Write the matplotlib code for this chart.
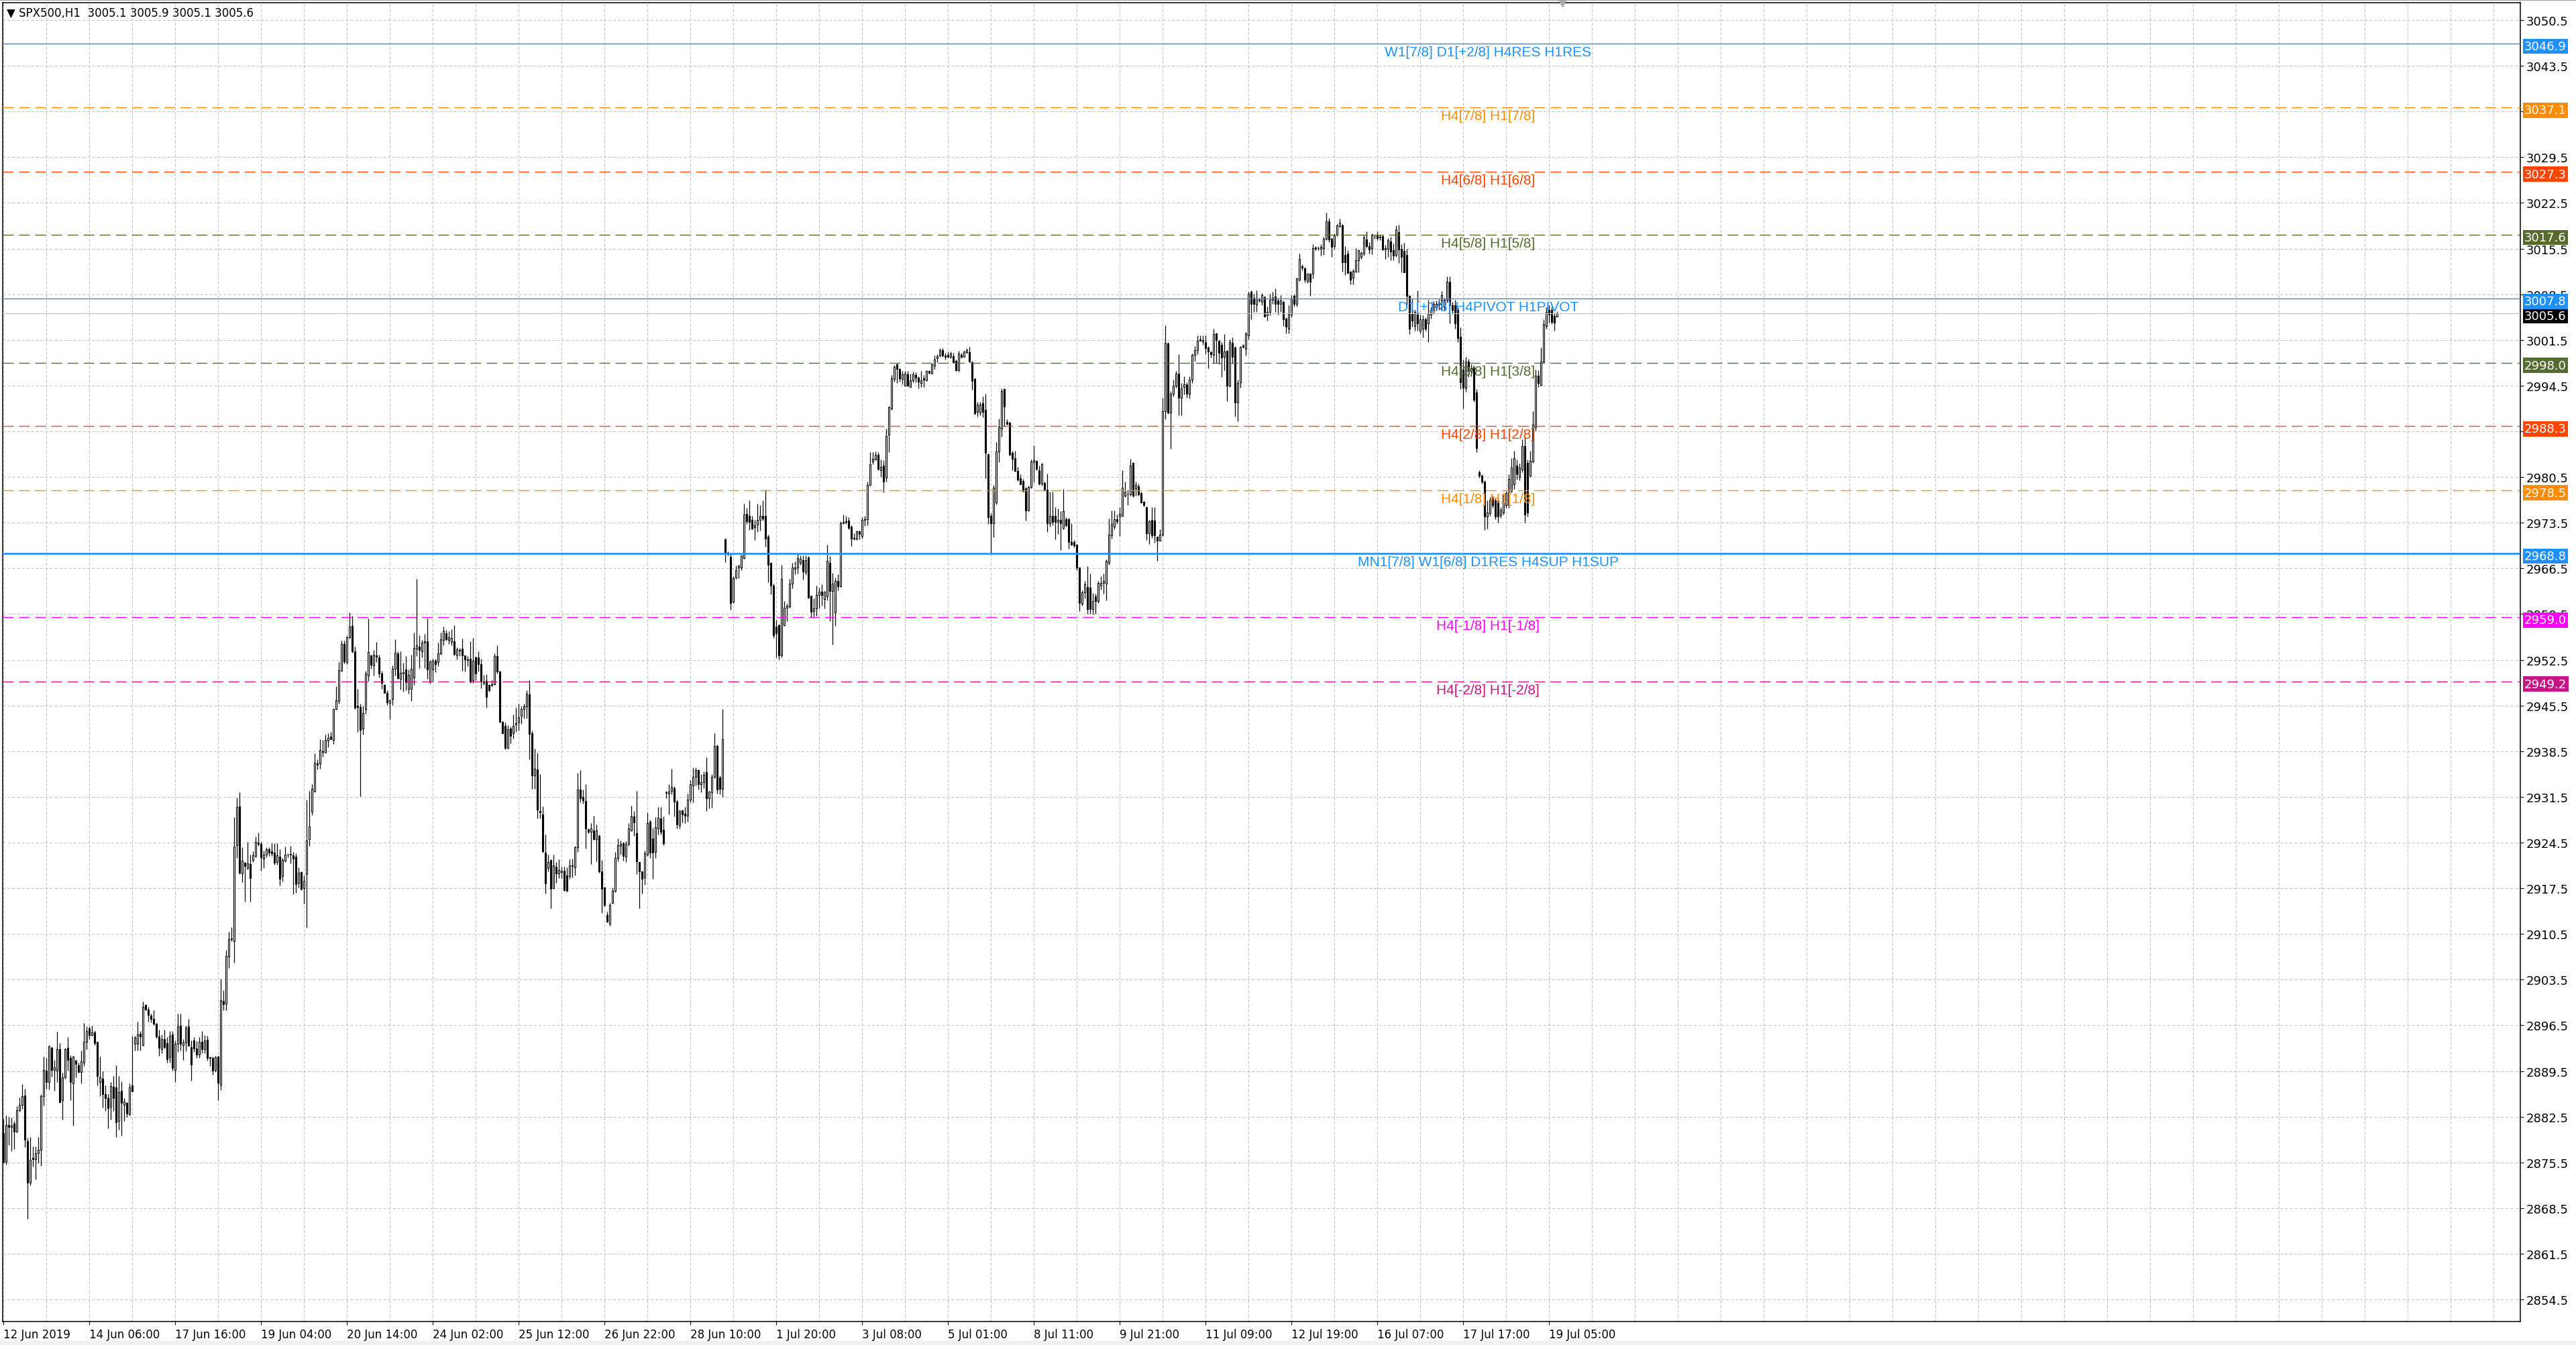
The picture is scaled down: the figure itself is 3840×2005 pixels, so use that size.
import numpy as np
import matplotlib.pyplot as plt
from matplotlib.collections import LineCollection
from matplotlib.patches import Rectangle
from matplotlib.ticker import FixedLocator, MultipleLocator

# H1 bars, SPX500 (one value per bar)
opens = [
    2880.0, 2875.6, 2881.2, 2880.9, 2881.4, 2880.2, 2883.5, 2884.3, 2885.8, 2878.8,
    2872.4, 2876.2, 2876.0, 2876.9, 2877.4, 2885.7, 2889.6, 2887.8, 2893.1, 2889.7,
    2889.6, 2892.8, 2885.0, 2888.5, 2893.0, 2891.5, 2887.6, 2891.1, 2890.4, 2889.4,
    2890.8, 2894.0, 2896.0, 2895.0, 2895.4, 2894.0, 2887.8, 2888.3, 2886.0, 2885.3,
    2884.0, 2887.1, 2887.0, 2881.8, 2886.5, 2884.3, 2884.6, 2882.9, 2887.3, 2893.7,
    2893.7, 2895.2, 2893.5, 2899.6, 2898.9, 2898.0, 2897.5, 2896.8, 2894.8, 2892.8,
    2894.4, 2893.8, 2891.6, 2895.1, 2889.7, 2893.7, 2896.4, 2893.5, 2893.9, 2896.3,
    2893.2, 2894.2, 2892.9, 2892.0, 2894.0, 2892.8, 2894.3, 2891.6, 2891.5, 2889.7,
    2891.7, 2887.4, 2900.2, 2899.8, 2907.0, 2909.7, 2909.4, 2924.1, 2930.0, 2919.8,
    2921.4, 2920.6, 2921.2, 2921.8, 2922.4, 2924.5, 2924.3, 2922.0, 2922.7, 2923.5,
    2923.2, 2923.0, 2921.5, 2922.3, 2919.4, 2921.7, 2922.6, 2922.6, 2922.5, 2922.3,
    2918.3, 2920.0, 2917.5, 2919.7, 2925.0, 2929.2, 2932.3, 2936.6, 2936.6, 2938.5,
    2938.3, 2940.1, 2940.7, 2940.2, 2944.9, 2946.2, 2950.8, 2954.9, 2952.1, 2955.9,
    2957.7, 2953.8, 2945.5, 2945.3, 2942.0, 2945.0, 2950.1, 2953.2, 2951.6, 2953.2,
    2952.9, 2950.4, 2948.7, 2947.4, 2945.9, 2946.5, 2951.1, 2953.5, 2949.6, 2950.4,
    2951.0, 2948.0, 2948.0, 2949.8, 2954.2, 2954.5, 2953.8, 2955.1, 2955.3, 2949.2,
    2951.0, 2952.3, 2952.1, 2953.5, 2955.5, 2956.6, 2955.5, 2955.2, 2955.3, 2953.2,
    2954.0, 2954.2, 2953.2, 2952.6, 2952.7, 2949.4, 2952.9, 2952.9, 2951.8, 2949.0,
    2949.3, 2948.6, 2948.5, 2948.8, 2953.1, 2950.7, 2943.0, 2942.4, 2939.0, 2942.0,
    2941.3, 2942.6, 2942.9, 2943.9, 2944.9, 2945.4, 2947.2, 2941.3, 2934.8, 2935.7,
    2929.3, 2928.8, 2923.0, 2920.6, 2921.8, 2917.5, 2920.8, 2919.8, 2920.0, 2920.2,
    2919.5, 2919.4, 2921.0, 2920.7, 2923.8, 2932.6, 2931.5, 2930.9, 2926.6, 2926.1,
    2926.4, 2925.0, 2925.5, 2920.1, 2917.6, 2913.4, 2912.1, 2915.3, 2917.1, 2922.1,
    2924.0, 2924.4, 2922.3, 2924.3, 2926.3, 2928.5, 2925.9, 2921.5, 2920.1, 2919.2,
    2922.6, 2927.7, 2925.1, 2923.1, 2926.7, 2928.2, 2926.5, 2932.2, 2932.0, 2932.4,
    2932.8, 2930.8, 2927.2, 2929.4, 2928.9, 2928.6, 2931.1, 2933.2, 2934.6, 2935.6,
    2933.4, 2933.7, 2935.3, 2931.3, 2932.2, 2934.6, 2939.3, 2934.5, 2932.7, 2971.0,
    2968.9, 2968.3, 2961.4, 2965.1, 2966.6, 2966.6, 2968.1, 2974.9, 2974.5, 2973.9,
    2972.8, 2973.2, 2973.9, 2974.6, 2974.6, 2971.4, 2967.4, 2963.9, 2957.6, 2957.8,
    2953.2, 2957.8, 2960.5, 2960.7, 2964.2, 2966.4, 2966.6, 2967.4, 2967.8, 2965.9,
    2968.2, 2962.3, 2960.0, 2960.4, 2962.4, 2962.9, 2961.8, 2962.2, 2967.4, 2963.0,
    2959.8, 2964.6, 2963.8, 2973.4, 2973.6, 2973.8, 2972.9, 2971.1, 2971.1, 2972.2,
    2971.5, 2973.9, 2974.0, 2979.3, 2982.9, 2983.2, 2983.9, 2981.5, 2982.3, 2980.4,
    2987.0, 2991.0, 2995.5, 2997.8, 2997.1, 2995.5, 2994.5, 2996.2, 2994.3, 2995.3,
    2996.1, 2995.7, 2994.9, 2995.6, 2995.3, 2996.7, 2996.4, 2997.6, 2998.7, 2999.1,
    2999.9, 2999.1, 2999.2, 2998.9, 2999.0, 2998.3, 2996.8, 2999.2, 2998.9, 2999.6,
    2999.6, 2998.1, 2995.5, 2990.5, 2990.4, 2991.8, 2990.8, 2984.0, 2974.6, 2973.4,
    2976.6, 2984.4, 2987.9, 2994.0, 2988.9, 2988.8, 2984.2, 2983.4, 2981.4, 2980.3,
    2979.9, 2978.8, 2975.4, 2979.0, 2982.8, 2983.0, 2981.5, 2979.5, 2979.6, 2978.6,
    2973.4, 2974.6, 2974.5, 2973.6, 2973.9, 2972.7, 2974.0, 2974.0, 2970.5, 2970.5,
    2970.1, 2966.6, 2961.1, 2962.8, 2963.7, 2963.6, 2960.3, 2962.2, 2961.5, 2963.9,
    2964.3, 2964.2, 2967.4, 2971.6, 2972.9, 2974.0, 2974.4, 2974.6, 2977.6, 2977.8,
    2977.8, 2982.7, 2978.8, 2979.1, 2978.0, 2976.7, 2975.9, 2971.9, 2973.9, 2973.8,
    2971.4, 2970.7, 2971.7, 2990.6, 3001.0, 2990.4, 2993.3, 2994.5, 2996.3, 2992.6,
    2994.3, 2994.7, 2993.3, 2995.4, 2999.2, 2999.9, 3001.6, 3001.3, 3001.2, 3000.3,
    2999.6, 2999.2, 3002.5, 3001.4, 3000.8, 2998.9, 2999.8, 2994.5, 3001.1, 3000.3,
    2991.9, 2995.0, 3000.7, 3000.1, 3002.2, 3008.9, 3007.9, 3006.9, 3007.6, 3007.3,
    3008.1, 3005.3, 3005.8, 3007.6, 3008.2, 3007.5, 3007.0, 3007.3, 3004.8, 3003.2,
    3005.4, 3008.3, 3007.0, 3010.7, 3012.8, 3012.5, 3010.5, 3011.6, 3011.7, 3015.7,
    3015.6, 3015.5, 3015.6, 3017.0, 3019.7, 3017.0, 3015.9, 3017.6, 3018.9, 3019.1,
    3014.5, 3014.7, 3012.0, 3011.0, 3012.0, 3013.7, 3014.2, 3014.7, 3016.9, 3015.9,
    3015.6, 3017.3, 3017.5, 3017.2, 3017.4, 3015.3, 3015.5, 3016.6, 3015.2, 3014.5,
    3018.0, 3015.5, 3015.1, 3014.5, 3008.3, 3005.5, 3003.6, 3005.4, 3002.9, 3003.2,
    3004.7, 3004.0, 3005.4, 3006.0, 3006.5, 3006.9, 3007.5, 3006.5, 3007.6, 3010.4,
    3006.8, 3006.8, 3006.1, 3002.0, 2997.0, 2994.2, 2998.2, 2996.7, 2997.2, 2993.5,
    2981.2, 2980.7, 2979.8, 2974.4, 2975.0, 2977.3, 2976.9, 2976.9, 2974.7, 2975.1,
    2976.2, 2976.2, 2978.4, 2979.4, 2982.3, 2980.5, 2981.6, 2985.2, 2982.7, 2980.7,
    2982.9, 2988.1, 2996.0, 2994.6, 2998.2, 3003.6, 3006.1, 3006.1, 3005.2, 3005.1,
]

highs = [
    2882.2, 2882.7, 2882.5, 2882.4, 2881.8, 2884.1, 2885.4, 2887.5, 2886.8, 2879.3,
    2879.4, 2877.9, 2877.9, 2879.4, 2886.0, 2891.7, 2891.5, 2893.5, 2893.3, 2891.2,
    2895.5, 2893.8, 2889.2, 2893.1, 2894.7, 2891.9, 2891.8, 2891.2, 2890.8, 2892.6,
    2896.9, 2896.3, 2896.3, 2896.4, 2895.7, 2894.0, 2891.7, 2889.5, 2887.3, 2886.0,
    2887.8, 2888.7, 2890.4, 2888.7, 2887.9, 2885.3, 2884.7, 2887.6, 2894.9, 2894.9,
    2897.1, 2895.6, 2900.1, 2899.7, 2899.3, 2898.3, 2898.8, 2896.9, 2895.8, 2895.1,
    2895.8, 2894.7, 2895.6, 2895.6, 2894.2, 2898.3, 2898.3, 2894.4, 2896.4, 2897.5,
    2894.2, 2894.7, 2894.1, 2894.7, 2895.6, 2895.0, 2894.9, 2891.7, 2891.7, 2891.8,
    2891.8, 2903.6, 2901.9, 2908.1, 2910.8, 2911.6, 2928.4, 2931.4, 2932.2, 2923.8,
    2921.5, 2924.6, 2922.7, 2923.2, 2925.4, 2926.0, 2924.6, 2923.3, 2923.8, 2923.8,
    2924.4, 2924.4, 2924.4, 2923.5, 2922.1, 2923.9, 2922.9, 2924.0, 2923.1, 2922.9,
    2920.7, 2920.1, 2919.5, 2931.1, 2932.4, 2933.4, 2938.2, 2937.2, 2940.3, 2940.2,
    2941.0, 2941.2, 2941.5, 2945.1, 2948.4, 2952.1, 2955.4, 2955.4, 2956.2, 2959.8,
    2959.2, 2954.5, 2948.0, 2945.8, 2945.5, 2950.8, 2958.8, 2953.3, 2954.0, 2955.2,
    2953.3, 2950.8, 2948.8, 2947.8, 2946.5, 2951.6, 2955.6, 2953.8, 2953.8, 2952.0,
    2953.1, 2951.0, 2953.3, 2956.7, 2964.9, 2956.3, 2955.5, 2956.5, 2958.8, 2952.5,
    2952.7, 2952.7, 2955.1, 2956.7, 2957.6, 2957.1, 2956.9, 2957.2, 2957.8, 2954.4,
    2954.3, 2955.7, 2953.2, 2953.1, 2955.3, 2955.8, 2953.1, 2953.8, 2952.7, 2950.2,
    2950.3, 2948.8, 2949.4, 2953.5, 2954.7, 2950.8, 2943.1, 2942.9, 2942.5, 2942.3,
    2944.1, 2945.2, 2945.8, 2945.4, 2945.8, 2947.8, 2949.4, 2941.7, 2938.9, 2938.3,
    2935.0, 2930.0, 2925.7, 2922.7, 2921.9, 2922.6, 2921.5, 2921.9, 2920.8, 2920.8,
    2920.7, 2921.9, 2922.0, 2924.0, 2935.2, 2935.6, 2932.6, 2933.4, 2926.7, 2927.5,
    2928.6, 2927.3, 2925.7, 2921.8, 2917.7, 2913.9, 2915.3, 2917.6, 2923.1, 2925.1,
    2924.8, 2924.6, 2924.7, 2927.5, 2930.2, 2929.3, 2932.4, 2921.5, 2920.1, 2923.3,
    2929.1, 2928.0, 2926.8, 2928.4, 2929.9, 2929.9, 2928.5, 2932.4, 2933.4, 2935.8,
    2933.1, 2931.1, 2929.5, 2929.5, 2929.9, 2932.0, 2934.1, 2936.0, 2936.0, 2935.7,
    2935.0, 2935.4, 2937.6, 2932.4, 2935.0, 2941.2, 2939.5, 2934.8, 2944.9, 2971.2,
    2969.1, 2968.7, 2965.3, 2966.9, 2967.0, 2968.5, 2976.4, 2975.8, 2976.9, 2974.5,
    2973.9, 2976.4, 2976.2, 2976.9, 2978.6, 2971.7, 2967.4, 2964.2, 2958.6, 2958.0,
    2967.0, 2961.5, 2961.1, 2964.9, 2967.4, 2967.6, 2968.7, 2968.5, 2968.5, 2968.5,
    2968.4, 2962.3, 2961.9, 2963.9, 2963.6, 2964.1, 2963.0, 2970.1, 2968.4, 2965.8,
    2965.1, 2965.6, 2973.7, 2974.8, 2974.6, 2974.3, 2973.1, 2971.9, 2972.3, 2972.3,
    2974.3, 2974.5, 2979.8, 2984.3, 2984.3, 2984.4, 2984.3, 2983.2, 2983.1, 2987.9,
    2991.4, 2996.1, 2997.7, 2997.9, 2997.2, 2996.7, 2996.7, 2996.7, 2996.3, 2996.6,
    2996.5, 2995.9, 2996.7, 2996.1, 2996.9, 2996.9, 2997.9, 2999.1, 2999.3, 3000.2,
    3000.2, 2999.5, 2999.7, 2999.7, 2999.5, 2998.5, 2999.8, 2999.5, 2999.8, 3000.2,
    3000.4, 2998.3, 2995.7, 2992.0, 2992.0, 2992.8, 2993.3, 2984.1, 2975.0, 2979.3,
    2985.9, 2989.4, 2994.1, 2994.1, 2989.3, 2988.9, 2984.5, 2984.5, 2982.1, 2980.9,
    2980.2, 2979.0, 2979.2, 2983.2, 2985.3, 2983.1, 2982.3, 2982.7, 2979.8, 2981.0,
    2978.2, 2978.2, 2975.9, 2975.7, 2975.3, 2978.7, 2974.3, 2974.2, 2973.4, 2970.8,
    2970.2, 2966.6, 2963.1, 2964.6, 2966.8, 2965.7, 2962.7, 2962.6, 2964.6, 2965.3,
    2965.7, 2967.9, 2974.1, 2975.4, 2975.4, 2974.8, 2975.9, 2981.5, 2979.8, 2978.6,
    2983.3, 2982.8, 2979.8, 2979.5, 2978.2, 2976.8, 2976.0, 2973.9, 2975.9, 2975.9,
    2971.4, 2972.5, 2992.6, 3003.7, 3001.2, 2993.7, 2995.4, 2996.7, 2999.3, 2994.9,
    2995.9, 2995.0, 2995.9, 2999.4, 3000.6, 3002.2, 3002.2, 3002.2, 3002.2, 3000.6,
    2999.8, 3003.2, 3002.6, 3001.5, 3001.2, 3002.4, 2999.9, 3001.6, 3001.9, 3000.5,
    2995.4, 3000.6, 3000.9, 3002.7, 3008.9, 3009.1, 3008.6, 3009.1, 3007.9, 3008.7,
    3008.3, 3006.6, 3008.6, 3008.9, 3009.4, 3008.0, 3008.4, 3007.5, 3005.0, 3006.8,
    3008.4, 3008.5, 3011.0, 3014.7, 3013.1, 3012.7, 3011.8, 3011.8, 3016.2, 3015.9,
    3015.9, 3016.2, 3017.3, 3021.0, 3020.2, 3017.2, 3017.8, 3019.3, 3020.1, 3019.3,
    3015.9, 3015.2, 3012.1, 3012.4, 3015.6, 3015.3, 3015.0, 3017.6, 3018.1, 3016.5,
    3017.8, 3017.6, 3018.1, 3017.6, 3017.5, 3016.1, 3017.1, 3017.3, 3016.3, 3019.0,
    3019.2, 3016.2, 3016.4, 3015.5, 3008.4, 3007.8, 3006.1, 3009.1, 3005.4, 3005.3,
    3005.0, 3007.6, 3006.5, 3007.4, 3007.5, 3007.7, 3009.0, 3008.0, 3011.2, 3011.2,
    3007.3, 3007.6, 3006.5, 3003.4, 2998.5, 2998.9, 2998.6, 2997.8, 2997.5, 2994.0,
    2981.5, 2980.9, 2980.0, 2976.9, 2977.4, 2977.6, 2977.2, 2977.3, 2975.9, 2978.0,
    2978.4, 2980.9, 2983.4, 2984.5, 2983.2, 2982.6, 2986.3, 2986.6, 2983.2, 2984.5,
    2990.6, 2997.0, 2996.8, 3000.3, 3004.7, 3006.5, 3006.8, 3006.5, 3005.7, 3005.9,
]

lows = [
    2875.4, 2875.2, 2878.2, 2877.2, 2877.5, 2880.1, 2883.3, 2883.7, 2877.8, 2866.8,
    2872.0, 2874.9, 2872.9, 2875.4, 2875.0, 2884.2, 2886.8, 2886.7, 2888.6, 2886.5,
    2887.8, 2884.6, 2882.1, 2888.3, 2889.6, 2885.0, 2881.1, 2888.5, 2889.2, 2887.6,
    2890.3, 2892.8, 2894.4, 2894.9, 2893.5, 2887.3, 2885.7, 2883.9, 2883.4, 2880.7,
    2882.1, 2883.4, 2879.4, 2880.5, 2879.6, 2881.9, 2882.5, 2882.7, 2886.4, 2892.6,
    2892.6, 2892.6, 2893.4, 2898.8, 2897.1, 2897.0, 2896.5, 2894.5, 2891.8, 2892.2,
    2892.9, 2890.8, 2890.8, 2889.6, 2887.8, 2892.4, 2892.6, 2891.2, 2892.5, 2893.4,
    2888.0, 2892.4, 2891.5, 2891.5, 2892.2, 2892.2, 2891.1, 2890.3, 2888.9, 2889.4,
    2885.0, 2886.6, 2898.8, 2898.8, 2905.3, 2909.4, 2906.1, 2922.1, 2919.7, 2918.4,
    2915.5, 2920.4, 2915.5, 2921.5, 2922.2, 2924.0, 2920.2, 2920.6, 2922.2, 2922.4,
    2922.4, 2921.1, 2921.1, 2917.9, 2918.5, 2921.5, 2922.2, 2921.3, 2916.6, 2916.8,
    2917.6, 2917.2, 2915.1, 2911.4, 2924.0, 2928.7, 2932.3, 2935.7, 2935.8, 2937.7,
    2938.3, 2939.1, 2940.3, 2939.6, 2944.8, 2945.8, 2950.8, 2951.9, 2951.8, 2955.7,
    2953.6, 2944.9, 2941.5, 2931.6, 2941.0, 2944.2, 2949.3, 2951.1, 2950.1, 2952.1,
    2949.8, 2948.0, 2947.4, 2945.6, 2943.4, 2945.6, 2950.1, 2949.6, 2947.9, 2947.6,
    2947.8, 2947.3, 2946.2, 2948.6, 2953.1, 2951.2, 2952.9, 2951.2, 2949.6, 2948.9,
    2949.2, 2950.6, 2951.5, 2953.3, 2954.7, 2955.4, 2954.9, 2954.7, 2953.2, 2952.6,
    2953.1, 2950.8, 2950.7, 2951.5, 2949.0, 2949.0, 2949.4, 2950.7, 2948.1, 2948.6,
    2945.2, 2947.6, 2948.4, 2948.6, 2950.4, 2942.9, 2941.1, 2938.8, 2938.9, 2939.7,
    2940.4, 2941.5, 2941.7, 2942.7, 2943.5, 2943.5, 2937.2, 2932.7, 2932.7, 2928.2,
    2928.2, 2923.0, 2916.7, 2920.1, 2914.4, 2917.4, 2918.3, 2919.1, 2919.1, 2917.1,
    2917.0, 2919.0, 2919.2, 2919.5, 2923.1, 2930.7, 2930.5, 2923.6, 2925.9, 2921.2,
    2924.9, 2921.6, 2919.9, 2913.7, 2914.7, 2912.3, 2911.8, 2915.1, 2916.9, 2921.6,
    2922.7, 2921.7, 2921.5, 2924.0, 2926.2, 2925.5, 2919.7, 2914.4, 2916.7, 2918.0,
    2922.4, 2922.1, 2918.9, 2922.1, 2925.7, 2925.7, 2924.1, 2931.3, 2928.8, 2931.9,
    2928.5, 2926.7, 2926.7, 2927.6, 2927.5, 2927.7, 2930.7, 2930.7, 2933.2, 2932.6,
    2932.2, 2932.8, 2929.3, 2929.7, 2929.8, 2934.4, 2932.0, 2931.9, 2931.5, 2967.5,
    2968.5, 2960.2, 2961.2, 2964.9, 2965.0, 2966.2, 2968.0, 2973.3, 2972.4, 2972.5,
    2970.8, 2972.1, 2972.3, 2973.8, 2969.8, 2964.4, 2962.5, 2955.8, 2952.9, 2952.6,
    2952.9, 2957.7, 2958.4, 2960.5, 2963.4, 2965.6, 2965.7, 2967.0, 2964.8, 2965.5,
    2961.9, 2959.0, 2959.1, 2959.2, 2960.4, 2960.8, 2960.4, 2961.6, 2958.4, 2954.8,
    2957.7, 2963.1, 2963.7, 2973.3, 2973.3, 2972.5, 2969.9, 2970.8, 2970.8, 2971.0,
    2971.1, 2973.0, 2973.1, 2979.2, 2982.5, 2983.1, 2981.5, 2980.5, 2978.1, 2979.8,
    2984.3, 2990.8, 2995.1, 2994.9, 2995.1, 2994.7, 2994.5, 2994.4, 2994.3, 2995.0,
    2995.0, 2994.1, 2994.3, 2994.3, 2995.2, 2996.3, 2996.2, 2997.1, 2998.1, 2998.9,
    2998.9, 2998.5, 2998.8, 2998.7, 2998.0, 2996.7, 2996.6, 2998.7, 2998.9, 2999.4,
    2998.1, 2993.9, 2990.1, 2989.8, 2990.0, 2989.7, 2980.3, 2973.3, 2968.8, 2971.3,
    2976.3, 2982.8, 2986.7, 2988.2, 2988.5, 2983.9, 2981.5, 2981.3, 2979.9, 2979.4,
    2978.2, 2973.8, 2975.3, 2978.8, 2979.7, 2981.5, 2979.3, 2979.2, 2978.4, 2972.1,
    2972.9, 2973.1, 2971.0, 2971.8, 2969.3, 2972.5, 2972.9, 2969.5, 2970.0, 2969.7,
    2966.2, 2960.0, 2960.8, 2961.9, 2959.5, 2959.5, 2959.4, 2959.5, 2961.2, 2963.2,
    2962.6, 2961.6, 2967.0, 2971.1, 2972.5, 2973.3, 2971.5, 2974.4, 2977.4, 2976.2,
    2977.6, 2977.4, 2977.6, 2977.6, 2976.5, 2976.0, 2970.8, 2970.2, 2971.2, 2970.4,
    2967.7, 2970.7, 2971.5, 2989.3, 2990.2, 2984.8, 2992.8, 2994.2, 2990.0, 2990.0,
    2993.2, 2992.6, 2992.5, 2994.9, 2998.3, 2999.3, 3001.4, 3000.8, 2999.3, 2997.2,
    2998.8, 2998.0, 2998.0, 2997.8, 2995.8, 2996.9, 2992.1, 2994.3, 2997.9, 2989.8,
    2989.0, 2994.2, 3000.2, 2999.1, 3001.6, 3004.7, 3005.8, 3005.8, 3007.3, 3006.8,
    3005.1, 3004.5, 3005.3, 3007.0, 3005.8, 3005.4, 3005.8, 3003.6, 3002.5, 3002.5,
    3005.0, 3006.6, 3006.6, 3010.5, 3012.2, 3010.3, 3010.2, 3008.3, 3010.9, 3015.2,
    3015.2, 3014.4, 3014.5, 3016.8, 3016.5, 3014.2, 3015.5, 3017.4, 3018.7, 3012.0,
    3011.4, 3011.8, 3010.0, 3010.0, 3011.9, 3011.9, 3013.9, 3014.4, 3015.7, 3014.7,
    3014.6, 3017.0, 3016.8, 3016.8, 3015.2, 3013.9, 3014.2, 3013.7, 3013.7, 3014.2,
    3013.3, 3011.9, 3011.9, 3006.5, 3002.4, 3003.5, 3002.9, 3002.9, 3002.5, 3001.9,
    3002.9, 3001.2, 3004.8, 3005.5, 3006.0, 3006.1, 3006.1, 3006.0, 3007.2, 3004.0,
    3005.5, 3003.2, 3001.2, 2994.0, 2991.0, 2993.6, 2995.8, 2995.9, 2992.0, 2984.3,
    2980.4, 2979.5, 2972.4, 2972.6, 2974.6, 2975.8, 2974.0, 2973.5, 2974.2, 2974.8,
    2975.8, 2975.8, 2978.1, 2978.7, 2980.1, 2980.0, 2981.2, 2973.5, 2974.4, 2980.5,
    2982.7, 2987.6, 2994.3, 2994.5, 2998.0, 3003.2, 3004.1, 3003.9, 3002.9, 3005.1,
]

closes = [
    2875.6, 2881.2, 2880.9, 2881.1, 2880.2, 2883.5, 2884.3, 2885.7, 2879.0, 2872.4,
    2875.9, 2876.0, 2876.9, 2877.4, 2885.7, 2889.7, 2887.8, 2893.3, 2889.7, 2890.1,
    2892.8, 2884.7, 2888.5, 2892.8, 2891.2, 2887.8, 2891.7, 2890.6, 2889.4, 2891.0,
    2894.0, 2895.6, 2895.0, 2895.4, 2893.8, 2888.7, 2888.5, 2886.0, 2885.3, 2883.8,
    2887.2, 2885.3, 2881.6, 2886.3, 2884.6, 2884.8, 2883.0, 2887.0, 2886.4, 2894.6,
    2895.1, 2894.8, 2899.3, 2898.9, 2898.1, 2897.5, 2896.7, 2894.8, 2893.1, 2894.4,
    2893.2, 2891.3, 2894.9, 2890.0, 2893.7, 2896.3, 2893.7, 2893.9, 2896.1, 2893.4,
    2890.5, 2892.9, 2892.0, 2894.0, 2892.8, 2894.2, 2891.5, 2891.5, 2889.6, 2891.6,
    2887.7, 2900.3, 2899.7, 2907.1, 2909.7, 2909.8, 2923.9, 2929.9, 2919.9, 2921.7,
    2920.9, 2921.3, 2919.1, 2922.5, 2924.6, 2924.3, 2922.2, 2922.7, 2923.5, 2923.0,
    2922.9, 2921.4, 2922.5, 2919.0, 2921.8, 2922.7, 2922.7, 2922.8, 2922.0, 2918.1,
    2919.9, 2917.4, 2918.6, 2924.8, 2927.0, 2932.7, 2936.7, 2936.4, 2938.7, 2938.4,
    2940.2, 2940.5, 2940.3, 2944.9, 2946.3, 2950.9, 2954.9, 2952.2, 2955.9, 2957.6,
    2953.8, 2945.2, 2945.3, 2941.8, 2944.3, 2950.4, 2953.7, 2951.7, 2953.3, 2953.0,
    2950.4, 2949.0, 2947.4, 2946.0, 2946.3, 2951.1, 2953.6, 2949.7, 2950.5, 2950.6,
    2949.1, 2950.2, 2951.1, 2954.3, 2954.7, 2954.0, 2955.1, 2955.3, 2951.0, 2952.2,
    2952.4, 2951.8, 2953.5, 2955.6, 2956.9, 2955.6, 2955.9, 2955.8, 2953.4, 2954.1,
    2953.9, 2953.2, 2952.6, 2952.5, 2949.2, 2952.3, 2950.4, 2951.8, 2949.2, 2949.2,
    2946.8, 2947.8, 2948.8, 2953.1, 2950.7, 2943.0, 2941.3, 2939.0, 2941.9, 2940.8,
    2942.4, 2942.8, 2943.7, 2945.0, 2945.4, 2947.3, 2941.1, 2934.8, 2935.8, 2929.5,
    2929.1, 2923.2, 2918.2, 2921.5, 2917.4, 2921.0, 2919.8, 2920.3, 2920.2, 2917.2,
    2917.1, 2921.0, 2920.9, 2923.8, 2932.6, 2931.3, 2931.0, 2926.7, 2926.1, 2926.7,
    2925.0, 2926.4, 2920.1, 2917.4, 2914.9, 2912.4, 2914.9, 2917.1, 2922.1, 2924.1,
    2924.3, 2922.4, 2924.3, 2926.7, 2928.5, 2927.6, 2921.6, 2920.1, 2919.0, 2922.9,
    2927.5, 2923.0, 2923.0, 2926.9, 2928.3, 2926.1, 2924.4, 2932.1, 2932.3, 2933.0,
    2930.8, 2927.3, 2929.3, 2928.8, 2928.6, 2931.1, 2933.4, 2934.6, 2935.6, 2933.4,
    2933.8, 2934.9, 2931.3, 2932.3, 2934.6, 2939.3, 2932.6, 2932.7, 2940.3, 2968.9,
    2968.7, 2961.2, 2965.0, 2966.2, 2966.9, 2968.5, 2974.8, 2973.7, 2973.6, 2972.6,
    2973.1, 2973.9, 2974.6, 2974.1, 2971.1, 2967.0, 2963.9, 2956.3, 2956.6, 2953.2,
    2964.9, 2960.5, 2960.8, 2964.2, 2966.6, 2966.6, 2968.1, 2968.0, 2966.0, 2967.8,
    2962.0, 2959.9, 2960.4, 2962.4, 2962.9, 2962.4, 2962.9, 2967.7, 2963.0, 2964.2,
    2964.6, 2963.8, 2973.4, 2973.6, 2973.7, 2972.7, 2971.1, 2971.2, 2972.2, 2971.8,
    2973.9, 2974.0, 2979.3, 2982.5, 2983.3, 2983.9, 2981.7, 2982.1, 2979.8, 2986.8,
    2991.2, 2995.6, 2997.4, 2997.1, 2995.6, 2996.2, 2996.3, 2994.5, 2995.3, 2996.2,
    2995.7, 2995.1, 2995.3, 2995.4, 2996.7, 2996.4, 2997.8, 2998.5, 2999.0, 2999.9,
    2999.1, 2998.9, 2998.9, 2999.4, 2998.1, 2996.9, 2999.4, 2998.9, 2999.7, 2999.9,
    2998.2, 2995.2, 2990.3, 2991.6, 2991.6, 2990.5, 2984.2, 2974.3, 2973.4, 2978.9,
    2984.4, 2988.2, 2993.7, 2991.3, 2988.6, 2983.9, 2983.3, 2981.4, 2980.1, 2979.4,
    2978.4, 2975.4, 2979.0, 2982.9, 2983.1, 2981.7, 2979.5, 2982.5, 2978.6, 2973.4,
    2974.6, 2973.6, 2973.6, 2973.9, 2973.4, 2975.3, 2973.1, 2970.5, 2970.1, 2970.0,
    2966.6, 2961.2, 2962.8, 2964.1, 2960.3, 2960.3, 2961.5, 2961.5, 2964.3, 2964.3,
    2964.6, 2967.7, 2971.7, 2973.3, 2974.0, 2973.7, 2974.9, 2978.9, 2978.2, 2977.8,
    2982.3, 2977.6, 2979.3, 2977.8, 2976.6, 2976.2, 2971.9, 2973.7, 2971.6, 2971.6,
    2970.7, 2971.7, 2990.6, 3001.1, 2990.4, 2993.3, 2994.5, 2996.3, 2992.6, 2994.1,
    2994.7, 2993.3, 2995.4, 2999.2, 2999.9, 3001.4, 3001.4, 3001.5, 3000.2, 2999.7,
    2999.3, 3002.4, 3001.5, 2999.5, 2998.8, 2999.7, 2994.5, 3001.2, 2998.9, 2991.9,
    2994.9, 3000.4, 3000.4, 3002.5, 3008.6, 3007.0, 3007.0, 3007.8, 3007.5, 3008.4,
    3005.1, 3005.8, 3007.6, 3007.9, 3007.0, 3007.0, 3007.5, 3004.7, 3003.5, 3005.5,
    3007.8, 3007.0, 3010.9, 3013.9, 3012.6, 3010.7, 3011.6, 3010.4, 3015.6, 3015.5,
    3015.6, 3015.8, 3017.0, 3019.7, 3016.9, 3015.8, 3017.5, 3019.1, 3019.5, 3013.4,
    3013.4, 3011.8, 3010.7, 3012.1, 3013.7, 3015.2, 3014.8, 3017.2, 3015.9, 3015.3,
    3017.6, 3017.3, 3017.1, 3017.3, 3015.3, 3015.6, 3016.8, 3015.0, 3014.4, 3018.4,
    3015.3, 3014.2, 3011.9, 3008.3, 3003.2, 3004.5, 3005.8, 3004.0, 3004.7, 3004.7,
    3003.2, 3005.5, 3006.0, 3007.0, 3007.0, 3007.2, 3008.4, 3007.6, 3010.4, 3006.8,
    3006.1, 3004.0, 3001.8, 2995.0, 2994.2, 2998.2, 2996.7, 2997.2, 2992.3, 2984.9,
    2980.7, 2979.8, 2974.4, 2975.1, 2976.9, 2976.2, 2974.4, 2974.4, 2975.5, 2977.6,
    2978.0, 2980.2, 2982.0, 2983.4, 2980.9, 2982.0, 2985.2, 2974.8, 2975.1, 2983.0,
    2988.5, 2996.0, 2994.9, 2998.2, 3003.9, 3005.8, 3005.4, 3004.3, 3004.1, 3005.6,
]

# time axis labels, one every 32 bars
time_labels = ["12 Jun 2019", "14 Jun 06:00", "17 Jun 16:00", "19 Jun 04:00", "20 Jun 14:00",
               "24 Jun 02:00", "25 Jun 12:00", "26 Jun 22:00", "28 Jun 10:00", "1 Jul 20:00",
               "3 Jul 08:00", "5 Jul 01:00", "8 Jul 11:00", "9 Jul 21:00", "11 Jul 09:00",
               "12 Jul 19:00", "16 Jul 07:00", "17 Jul 17:00", "19 Jul 05:00"]

# murrey / pivot levels
level_prices = [3046.9, 3037.1, 3027.3, 3017.6, 3007.8, 2998.0, 2988.3, 2978.5, 2968.8, 2959.0, 2949.2]
level_names = ["W1[7/8] D1[+2/8] H4RES H1RES", "H4[7/8] H1[7/8]", "H4[6/8] H1[6/8]",
               "H4[5/8] H1[5/8]", "D1[+1/8] H4PIVOT H1PIVOT", "H4[3/8] H1[3/8]",
               "H4[2/8] H1[2/8]", "H4[1/8] H1[1/8]", "MN1[7/8] W1[6/8] D1RES H4SUP H1SUP",
               "H4[-1/8] H1[-1/8]", "H4[-2/8] H1[-2/8]"]
level_colors = ["#1E90FF", "#FF8C00", "#FF4500", "#556B2F", "#1E90FF", "#556B2F",
                "#FF4500", "#FF8C00", "#1E90FF", "#FF00FF", "#C71585"]
level_solid = [True, False, False, False, True, False, False, False, True, False, False]
level_width = [1.0, 1.0, 1.0, 1.0, 1.0, 1.0, 1.0, 1.0, 1.9, 1.0, 1.0]

bid_price = 3005.6
LABEL_X = 553.3  # bar index where the level captions are centred

o = np.array(opens)
h = np.array(highs)
l = np.array(lows)
c = np.array(closes)
h = np.maximum(h, np.maximum(o, c))
l = np.minimum(l, np.minimum(o, c))
x = np.arange(len(c))

W, H = 3840, 2006
fig = plt.figure(figsize=(W / 100, H / 100), dpi=100)
fig.patch.set_facecolor("white")
ax = fig.add_axes([4 / W, 35 / H, 3753 / W, 1966 / H])
ax.set_xlim(-0.25, 938.0)
ax.set_ylim(2851.12, 3053.17)

# price scale; labels that sit fully under a price box are not visible in MT4
ytick_values = [2854.5 + 7 * k for k in range(29)]
box_centres = [p - 0.4 for p in level_prices + [bid_price]]
ytick_text = ["" if min(abs(v - b) for b in box_centres) < 0.6 else f"{v:.1f}"
              for v in ytick_values]
ax.yaxis.tick_right()
ax.set_yticks(ytick_values)
ax.set_yticklabels(ytick_text)
ax.xaxis.set_major_locator(FixedLocator(list(range(0, 32 * len(time_labels), 32))))
ax.set_xticklabels(time_labels)
ax.xaxis.set_minor_locator(MultipleLocator(16))
for lbl in ax.get_xticklabels():
    lbl.set_horizontalalignment("left")
ax.grid(True, which="major", axis="y", color="#C0C0C0", lw=0.72, linestyle=(0, (4, 3)), zorder=0)
ax.grid(True, which="both", axis="x", color="#C0C0C0", lw=0.72, linestyle=(0, (4, 3)), zorder=0)
ax.set_axisbelow(True)
ax.tick_params(axis="y", which="major", direction="out", length=3.6, width=0.8,
               pad=2.5, labelsize=13, colors="black")
ax.tick_params(axis="x", which="major", direction="out", length=3.6, width=0.8,
               pad=3.5, labelsize=12, colors="black")
ax.tick_params(axis="x", which="minor", length=0)
for s in ax.spines.values():
    s.set_color("black")
    s.set_linewidth(1.1)

# candles
segs = [[(xi, lo), (xi, hi)] for xi, lo, hi in zip(x, l, h)]
ax.add_collection(LineCollection(segs, colors="black", linewidths=0.9, zorder=2.8))
up = c >= o
ax.bar(x[up], (c - o)[up], bottom=o[up], width=0.72, facecolor="white",
       edgecolor="black", linewidth=0.8, zorder=3)
ax.bar(x[~up], (c - o)[~up], bottom=o[~up], width=0.72, facecolor="black",
       edgecolor="black", linewidth=0.8, zorder=3)

# bid line and its price box (sits underneath the level boxes)
ax.axhline(bid_price, color="#C0C0C0", lw=0.9, zorder=3.5)
ax.annotate(f"{bid_price:.1f}", xy=(1, bid_price), xycoords=("axes fraction", "data"),
            xytext=(6, -4), textcoords="offset pixels", ha="left", va="center",
            color="white", fontsize=13, annotation_clip=False, zorder=6.5,
            bbox=dict(boxstyle="square,pad=0.13", fc="black", ec="none"))

# level lines with captions and price boxes
for price, name, col, solid, lw in zip(level_prices, level_names, level_colors,
                                       level_solid, level_width):
    if solid:
        ax.axhline(price, color=col, lw=lw, zorder=4)
    else:
        ax.axhline(price, color=col, lw=lw, linestyle=(0, (11.5, 5.8)), zorder=4)
    ax.annotate(name, xy=(LABEL_X, price), xytext=(0, -3), textcoords="offset pixels",
                ha="center", va="top", color=col, fontsize=15,
                family="Liberation Sans", zorder=6)
    ax.annotate(f"{price:.1f}", xy=(1, price), xycoords=("axes fraction", "data"),
                xytext=(6, -4), textcoords="offset pixels", ha="left", va="center",
                color="white", fontsize=13, annotation_clip=False, zorder=7,
                bbox=dict(boxstyle="square,pad=0.13", fc=col, ec="none"))

# chart shift marker
ax.plot([len(c) + 1], [ax.get_ylim()[1]], marker="v", color="#A8A8A8", ms=9,
        clip_on=False, zorder=8)

# header
fig.text(10 / W, 1 - 20 / H,
         f"\u25BC SPX500,H1  {o[-1]:.1f} {h[-1]:.1f} {l[-1]:.1f} {c[-1]:.1f}",
         fontsize=12, ha="left", va="center", color="black", family="DejaVu Sans")

# window edges
fig.add_artist(Rectangle((0, 0), 1, 6 / H, transform=fig.transFigure,
                         fc="#F0F0F0", ec="none"))
fig.add_artist(Rectangle((0, 1 - 2 / H), 1, 2 / H, transform=fig.transFigure,
                         fc="#A0A0A0", ec="none"))

fig.savefig("out.png", dpi=100, facecolor="white")
